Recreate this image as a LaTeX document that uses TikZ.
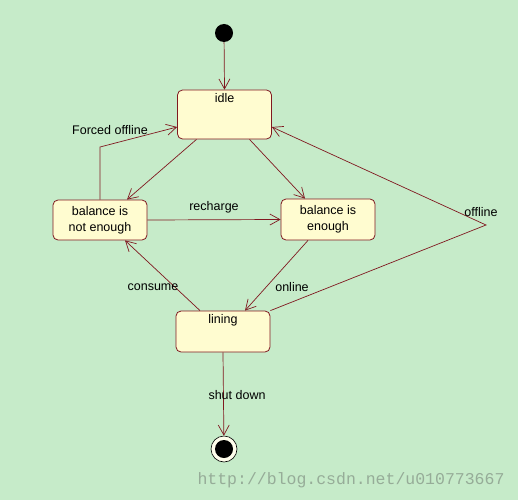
\documentclass[tikz,border=0pt]{standalone}
\usepackage{fontspec}
\setmainfont{Liberation Sans}
\newfontfamily\wmfont{Liberation Mono}
\usetikzlibrary{arrows.meta}
\definecolor{bgcol}{RGB}{198,235,201}
\definecolor{boxcol}{RGB}{255,252,208}
\definecolor{edgecol}{RGB}{128,24,32}
\definecolor{wmcol}{RGB}{150,172,152}

\tikzset{
    statebox/.style={draw=edgecol, fill=boxcol, rounded corners=5pt, line width=0.8pt,
        minimum width=94pt, align=center, inner sep=0pt,
        font=\fontsize{12.5}{16}\selectfont},
    toptext/.style={below, inner sep=4pt, font=\fontsize{12.5}{15}\selectfont},
    edgelabel/.style={font=\fontsize{12.5}{15}\selectfont, inner sep=1pt},
    trans/.style={draw=edgecol, line width=0.7pt, -{Straight Barb[length=10pt,width=11pt,line width=0.7pt]}},
}

\begin{document}
\begin{tikzpicture}[x=1pt, y=-1pt]
        % 背景
        \fill[bgcol] (0,0) rectangle (518,500);
        \useasboundingbox (0,0) rectangle (518,500);

        % 状態
        \node[circle, fill=black, minimum size=18pt, inner sep=0pt] (start) at (224,33) {};
        \node[statebox, minimum height=49pt, label={[toptext]north:idle}] (idle) at (224.5,114.5) {};
        \node[statebox, minimum height=40pt] (notenough) at (100,220) {balance is\\not enough};
        \node[statebox, minimum height=41pt] (enough) at (328,219.5) {balance is\\enough};
        \node[statebox, minimum height=41pt, label={[toptext]north:lining}] (lining) at (223,331.5) {};
        \node[circle, draw=black, line width=0.6pt, fill=white!60!boxcol, minimum size=26pt, inner sep=0pt,
            path picture={\fill[black] (path picture bounding box.center) circle (9pt);}] (finish) at (224,449) {};

        % 角の点
        \coordinate (forcedcorner) at (100,147);
        \coordinate (offlinecorner) at (486,225);

        % 遷移
        \draw[trans] (start) -- (idle.north);
        \draw[trans] ([xshift=-28pt]idle.south) -- ([xshift=27pt]notenough.north);
        \draw[trans] ([xshift=25pt]idle.south) -- ([xshift=-23pt]enough.north);
        \draw[trans] (notenough.north) -- (forcedcorner) -- ([yshift=-12.5pt]idle.west);
        \draw[trans] (notenough.east) -- (enough.west);
        \draw[trans] ([xshift=-20pt]enough.south) -- ([xshift=22pt]lining.north);
        \draw[trans] ([xshift=-23pt]lining.north) -- ([xshift=25pt]notenough.south);
        \draw[trans] (lining.north east) -- (offlinecorner) -- ([yshift=-12.5pt]idle.east);
        \draw[trans] (lining.south) -- (finish);

        % ラベル
        \node[edgelabel] (lblforced) at (110,130) {Forced offline};
        \node[edgelabel] (lblrecharge) at (214,207) {recharge};
        \node[edgelabel] (lblonline) at (292,287) {online};
        \node[edgelabel] (lblconsume) at (153,287) {consume};
        \node[edgelabel] (lbloffline) at (481,212) {offline};
        \node[edgelabel] (lblshut) at (237,395) {shut down};

        % 透かし
        \node[text=wmcol, font=\wmfont\fontsize{16.5}{18}\selectfont, inner sep=0pt] (watermark) at (351,480) {http://blog.csdn.net/u010773667};
    \end{tikzpicture}
\end{document}
